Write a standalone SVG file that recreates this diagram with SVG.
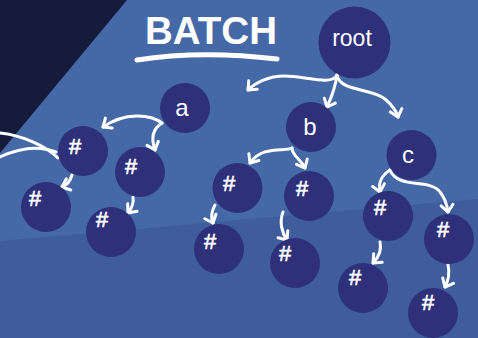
<svg xmlns="http://www.w3.org/2000/svg" width="478" height="338" viewBox="0 0 478 338">
  <defs>
    <marker id="chev" markerUnits="userSpaceOnUse" markerWidth="16" markerHeight="16" viewBox="-10 -8 12 16" refX="0" refY="0" orient="auto">
      <path d="M-7,-6 L0,0 L-7,6" fill="none" stroke="#ffffff" stroke-width="3" stroke-linecap="round" stroke-linejoin="round"/>
    </marker>
    <style>
      .node { fill: #2e307a; }
      .edge { fill: none; stroke: #ffffff; stroke-width: 3; stroke-linecap: round; marker-end: url(#chev); }
      .plain { fill: none; stroke: #ffffff; stroke-width: 3; stroke-linecap: round; }
      .lbl { fill: #ffffff; font-family: "Liberation Sans", "DejaVu Sans", sans-serif; text-anchor: middle; }
      .hash { font-size: 22px; stroke: #ffffff; stroke-width: 0.6; }
      .key { font-size: 24px; }
    </style>
  </defs>

  <!-- background bands -->
  <rect x="0" y="0" width="478" height="338" fill="#4568a6"/>
  <polygon points="0,241 478,199 478,338 0,338" fill="#3f5d9b"/>
  <polygon points="0,0 127,0 0,153" fill="#151b3a"/>

  <!-- title -->
  <g id="title">
    <text x="211" y="44" class="lbl" font-size="38" font-weight="bold" textLength="132" lengthAdjust="spacingAndGlyphs">BATCH</text>
    <path d="M137,60 Q200,50 277,59" fill="none" stroke="#ffffff" stroke-width="5" stroke-linecap="round"/>
  </g>

  <!-- connectors -->
  <g id="connectors">
    <path class="plain" d="M0,133 C20,135 45,145 58,158"/>
    <path class="plain" d="M0,157 C15,150 35,144 56,152"/>
    <path class="edge" d="M337,75 C332,86 305,76 285,76 C268,76 255,83 248,90"/>
    <path class="edge" d="M337,75 C335,90 331,98 327,107"/>
    <path class="edge" d="M337,75 C340,92 372,88 385,99 C392,105 396,110 398,117"/>
    <path class="edge" d="M162,123 C150,114 125,112 103,127"/>
    <path class="edge" d="M162,123 C154,128 150,136 155,150"/>
    <path class="edge" d="M292,148 C285,152 262,145 250,163"/>
    <path class="edge" d="M292,148 C292,156 300,158 305,168"/>
    <path class="edge" d="M390,170 C382,175 378,183 380,192"/>
    <path class="edge" d="M390,170 C398,190 430,178 440,192 C445,198 447,205 448,212"/>
    <path class="edge" d="M72,175 C70,182 67,185 62,187"/>
    <path class="edge" d="M133,197 C134,203 132,208 128,213"/>
    <path class="edge" d="M215,205 C211,212 211,218 213,223"/>
    <path class="edge" d="M283,212 C279,222 282,233 287,240"/>
    <path class="edge" d="M380,242 C382,251 378,258 373,263"/>
    <path class="edge" d="M448,265 C450,273 448,281 445,287"/>
  </g>

  <!-- nodes -->
  <g id="root"><circle class="node" cx="354.5" cy="42.5" r="36"/><text class="lbl" x="352" y="46" font-size="23">root</text></g>
  <g id="a"><circle class="node" cx="185" cy="108" r="25"/><text class="lbl key" x="182" y="116">a</text></g>
  <g id="b"><circle class="node" cx="311" cy="127" r="25"/><text class="lbl key" x="310" y="135">b</text></g>
  <g id="c"><circle class="node" cx="411.5" cy="155" r="25"/><text class="lbl key" x="408" y="163">c</text></g>

  <g id="a1"><circle class="node" cx="83" cy="151" r="25"/><text class="lbl hash" x="75" y="154">#</text></g>
  <g id="a2"><circle class="node" cx="140" cy="172" r="25"/><text class="lbl hash" x="131" y="174">#</text></g>
  <g id="a1x"><circle class="node" cx="46" cy="207" r="25"/><text class="lbl hash" x="35" y="206">#</text></g>
  <g id="a2x"><circle class="node" cx="111" cy="232" r="25"/><text class="lbl hash" x="102" y="227">#</text></g>

  <g id="b1"><circle class="node" cx="237.5" cy="188" r="25"/><text class="lbl hash" x="229" y="191">#</text></g>
  <g id="b2"><circle class="node" cx="309" cy="196" r="25"/><text class="lbl hash" x="302" y="196">#</text></g>
  <g id="b1x"><circle class="node" cx="219" cy="249" r="25"/><text class="lbl hash" x="210" y="249">#</text></g>
  <g id="b2x"><circle class="node" cx="295" cy="263" r="25"/><text class="lbl hash" x="285" y="261">#</text></g>

  <g id="c1"><circle class="node" cx="388" cy="216" r="25"/><text class="lbl hash" x="380" y="215">#</text></g>
  <g id="c2"><circle class="node" cx="449" cy="239" r="25"/><text class="lbl hash" x="443" y="237">#</text></g>
  <g id="c1x"><circle class="node" cx="363" cy="288" r="25"/><text class="lbl hash" x="355" y="285">#</text></g>
  <g id="c2x"><circle class="node" cx="433" cy="313" r="25"/><text class="lbl hash" x="428" y="310">#</text></g>
</svg>
